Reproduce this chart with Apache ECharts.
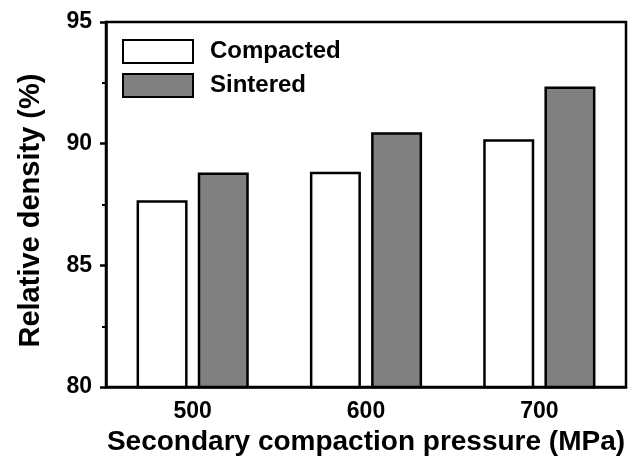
<!DOCTYPE html>
<html><head><meta charset="utf-8">
<script src="https://cdn.jsdelivr.net/npm/echarts@6/dist/echarts.min.js"></script>
<style>html,body{margin:0;padding:0;background:#fff}#c{width:634px;height:461px}</style>
</head><body><div id="c"></div>
<script>
const categories = ['500', '600', '700'];
const compacted = [87.68, 88.85, 90.18];
const sintered = [88.82, 90.47, 92.35];
const yTicks = [80, 85, 90, 95];

const chart = echarts.init(document.getElementById('c'), null, {renderer: 'canvas'});
const font = '"Liberation Sans", Arial, sans-serif';
chart.setOption({
  backgroundColor: '#fff',
  animation: false,
  grid: {left: 106, right: 8, top: 22, bottom: 72, show: true, borderColor: '#000', borderWidth: 2.5, backgroundColor: 'transparent'},
  legend: {
    orient: 'vertical', left: 122, top: 39, padding: 0, itemWidth: 70, itemHeight: 23, itemGap: 9,
    icon: 'rect',
    textStyle: {fontFamily: font, fontWeight: 'bold', fontSize: 24, color: '#000', padding: [0, 0, 0, 12]},
    data: ['Compacted', 'Sintered']
  },
  xAxis: {
    type: 'category', data: categories,
    name: 'Secondary compaction pressure (MPa)', nameLocation: 'middle', nameGap: 35,
    nameTextStyle: {fontFamily: font, fontWeight: 'bold', fontSize: 28, color: '#000'},
    axisLine: {lineStyle: {color: '#000', width: 2.5}},
    axisTick: {alignWithLabel: true, length: 6, lineStyle: {color: '#000', width: 2.5}},
    axisLabel: {fontFamily: font, fontWeight: 'bold', fontSize: 23, color: '#000', margin: 13}
  },
  yAxis: {
    type: 'value', min: yTicks[0], max: yTicks[yTicks.length - 1], interval: 5,
    name: 'Relative density (%)', nameLocation: 'middle', nameGap: 61,
    nameTextStyle: {fontFamily: font, fontWeight: 'bold', fontSize: 29, color: '#000', padding: [0, 12, 0, 0]},
    axisLine: {show: true, lineStyle: {color: '#000', width: 2.5}},
    axisTick: {show: true, length: 6, lineStyle: {color: '#000', width: 2.5}},
    minorTick: {show: true, splitNumber: 2, length: 4, lineStyle: {color: '#000', width: 2}},
    splitLine: {show: false},
    axisLabel: {fontFamily: font, fontWeight: 'bold', fontSize: 23, color: '#000', margin: 14}
  },
  series: [
    {name: 'Compacted', type: 'bar', data: compacted, barWidth: 51, barGap: '20%',
     itemStyle: {color: '#ffffff', borderColor: '#000', borderWidth: 2.5}},
    {name: 'Sintered', type: 'bar', data: sintered, barWidth: 51,
     itemStyle: {color: '#808080', borderColor: '#000', borderWidth: 2.5}}
  ]
});
</script></body></html>
